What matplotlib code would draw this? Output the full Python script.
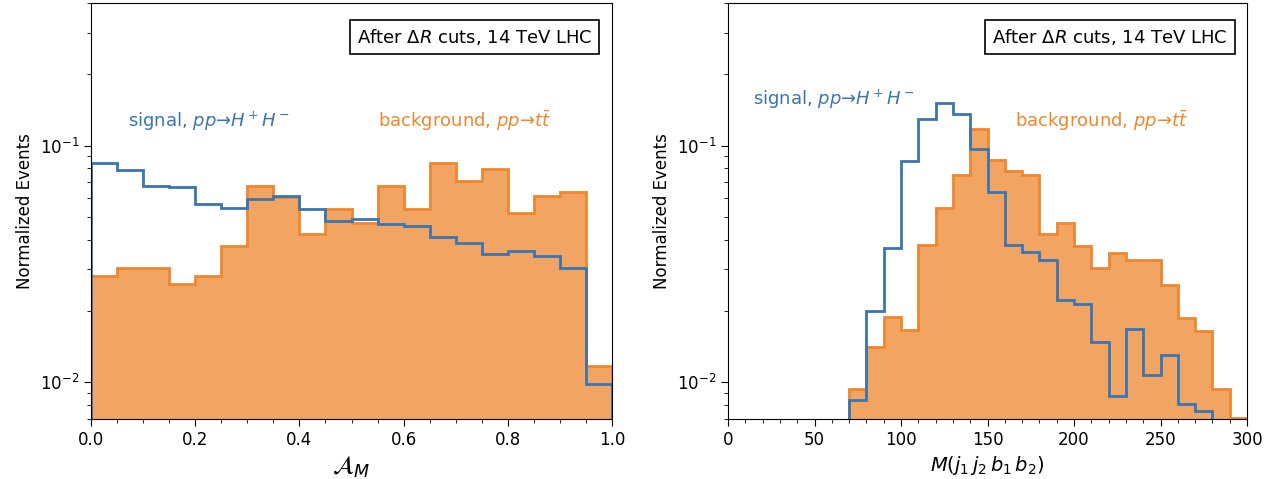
import numpy as np
import matplotlib
matplotlib.use("Agg")
import matplotlib.pyplot as plt

# ---- data ----
am_edges = np.linspace(0.0, 1.0, 21)
am_signal = [0.0842, 0.0787, 0.0676, 0.0667, 0.0568, 0.0544, 0.0593, 0.0615, 0.0541, 0.0480,
             0.0488, 0.0465, 0.0459, 0.0410, 0.0387, 0.0347, 0.0358, 0.0343, 0.0305, 0.00987]
am_background = [0.0281, 0.0305, 0.0305, 0.0260, 0.0282, 0.0376, 0.0678, 0.0607, 0.0424, 0.0539,
                 0.0470, 0.0678, 0.0541, 0.0845, 0.0707, 0.0798, 0.0517, 0.0610, 0.0636, 0.0117]

m_sig_edges = np.arange(70, 290, 10)
m_signal = [0.00845, 0.0201, 0.0369, 0.0859, 0.129, 0.152, 0.1365, 0.0971, 0.0636, 0.0381,
            0.0354, 0.0327, 0.0223, 0.0215, 0.0148, 0.00873, 0.01684, 0.0107, 0.0131, 0.00813, 0.00755]
m_bkg_edges = np.arange(70, 310, 10)
m_background = [0.0094, 0.0141, 0.0188, 0.0166, 0.0379, 0.0544, 0.0752, 0.117, 0.087, 0.0782,
                0.0752, 0.0424, 0.047, 0.0377, 0.0305, 0.0353, 0.033, 0.033, 0.0258, 0.0187,
                0.0165, 0.0094, 0.0071]

blue = '#3a75b0'
orange_fill = '#f2a563'
orange_edge = '#f0862e'

sig_label = r'signal, $pp$→$H^+H^-$'
bkg_label = r'background, $pp$→$t\bar{t}$'

fig = plt.figure(figsize=(12.73, 4.79), dpi=100)
axL = fig.add_axes([0.0715, 0.1253, 0.4093, 0.8684])
axR = fig.add_axes([0.5719, 0.1253, 0.4077, 0.8684])

def draw(ax, sedges, svals, bedges, bvals):
    base = 1e-4
    ax.stairs(bvals, bedges, baseline=base, fill=True, color=orange_fill, zorder=1)
    ax.stairs(bvals, bedges, baseline=base, color=orange_edge, lw=2, zorder=2)
    ax.stairs(svals, sedges, baseline=base, color=blue, lw=2, zorder=3)
    for s in ax.spines.values():
        s.set_zorder(5)
    ax.set_yscale('log')
    ax.set_ylim(0.007, 0.4)
    ax.set_ylabel('Normalized Events', fontsize=12)
    ax.tick_params(axis='both', which='major', labelsize=12, direction='out', length=5)
    ax.tick_params(axis='both', which='minor', direction='out', length=3)
    ax.text(0.962, 0.918, r'After $\Delta R$ cuts, 14 TeV LHC', transform=ax.transAxes,
            ha='right', va='center', fontsize=13,
            bbox=dict(boxstyle='square,pad=0.4', fc='white', ec='black', lw=1.2))

draw(axL, am_edges, am_signal, am_edges, am_background)
axL.set_xlim(0, 1)
axL.set_xticks(np.arange(0, 1.01, 0.2))
axL.set_xticks(np.arange(0, 1.01, 0.05), minor=True)
axL.set_xlabel(r'$\mathcal{A}_M$', fontsize=18)
axL.text(0.071, 0.716, sig_label, transform=axL.transAxes, color=blue,
         fontsize=13, ha='left', va='center')
axL.text(0.551, 0.716, bkg_label, transform=axL.transAxes, color=orange_edge,
         fontsize=13, ha='left', va='center')

draw(axR, m_sig_edges, m_signal, m_bkg_edges, m_background)
axR.set_xlim(0, 300)
axR.set_xticks(np.arange(0, 301, 50))
axR.set_xticks(np.arange(0, 301, 10), minor=True)
axR.set_xlabel(r'$M(j_1\,j_2\,b_1\,b_2)$', fontsize=14)
axR.text(0.048, 0.769, sig_label, transform=axR.transAxes, color=blue,
         fontsize=13, ha='left', va='center')
axR.text(0.553, 0.716, bkg_label, transform=axR.transAxes, color=orange_edge,
         fontsize=13, ha='left', va='center')

fig.savefig('out.png', dpi=100)
